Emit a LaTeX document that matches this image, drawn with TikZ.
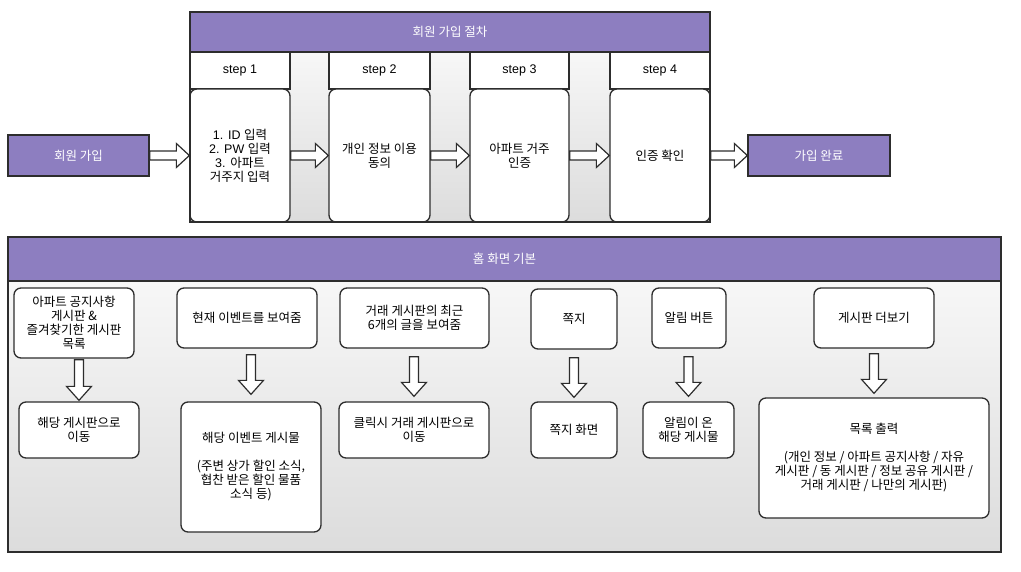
\documentclass[tikz,border=0pt]{standalone}
\usepackage{fontspec}
\setmainfont{Noto Sans CJK KR}
\newfontfamily\latin{Liberation Sans}
\usetikzlibrary{calc}

\definecolor{hdrpurple}{RGB}{141,126,192}
\definecolor{edge}{RGB}{45,45,45}
\definecolor{shadetop}{RGB}{247,247,247}
\definecolor{shadebot}{RGB}{220,220,220}

\tikzset{
  base/.style={draw=edge, line width=1.3pt, align=center, inner sep=0pt,
    font=\fontsize{12.5}{14}\selectfont},
  purplebox/.style={base, fill=hdrpurple, text=white},
  stephead/.style={base, fill=white},
  card/.style={base, fill=white, rounded corners=7pt},
  frame/.style={draw=edge, line width=1.3pt},
  blockarrow/.style={draw=edge, line width=1.2pt, fill=white, line join=miter},
}

% horizontal hollow arrow from the east side of #1 to the west side of #2
\newcommand\rightblock[2]{%
  \draw[blockarrow] let \p1=(#1.east), \p2=(#2.west) in
    (\x1,\y1+4.5pt) -- (\x2-13pt,\y1+4.5pt) -- (\x2-13pt,\y1+12pt) -- (\x2,\y1)
    -- (\x2-13pt,\y1-12pt) -- (\x2-13pt,\y1-4.5pt) -- (\x1,\y1-4.5pt) -- cycle;}

% vertical hollow arrow from #1 down to #2, with gaps #3 (start) and #4 (tip)
\newcommand\downblock[4]{%
  \draw[blockarrow] let \p1=(#1.south), \p2=(#2.north) in
    (\x2-4.5pt,\y1-#3) -- (\x2-4.5pt,\y2+#4+14pt) -- (\x2-12.5pt,\y2+#4+14pt)
    -- (\x2,\y2+#4) -- (\x2+12.5pt,\y2+#4+14pt) -- (\x2+4.5pt,\y2+#4+14pt)
    -- (\x2+4.5pt,\y1-#3) -- cycle;}

\begin{document}
\begin{tikzpicture}[x=1pt,y=-1pt]
\fill[white] (0,0) rectangle (1021,571);
\useasboundingbox (0,0) rectangle (1021,571);

% ---------- sign-up procedure ----------
\shade[top color=shadetop, bottom color=shadebot] (190,52) rectangle (710,222);
\node[purplebox, minimum width=520, minimum height=40] (prochead) at (450,32) {회원 가입 절차};

\node[stephead, minimum width=100, minimum height=37] (s1h) at (240,70.5) {\latin step 1};
\node[stephead, minimum width=101, minimum height=37] (s2h) at (379.5,70.5) {\latin step 2};
\node[stephead, minimum width=99,  minimum height=37] (s3h) at (519.5,70.5) {\latin step 3};
\node[stephead, minimum width=100, minimum height=37] (s4h) at (660,70.5) {\latin step 4};

\node[card, minimum width=100, minimum height=133] (s1) at (240,155.5)
  {{\latin 1. ID }입력\\{\latin 2. PW }입력\\{\latin 3. }아파트\\거주지 입력};
\node[card, minimum width=101, minimum height=133] (s2) at (379.5,155.5) {개인 정보 이용\\동의};
\node[card, minimum width=99,  minimum height=133] (s3) at (519.5,155.5) {아파트 거주\\인증};
\node[card, minimum width=100, minimum height=133] (s4) at (660,155.5) {인증 확인};

\draw[frame] (190,12) rectangle (710,222);

\node[purplebox, minimum width=141, minimum height=41] (join) at (78.5,155.5) {회원 가입};
\node[purplebox, minimum width=142, minimum height=41] (done) at (819,155.5) {가입 완료};

\rightblock{join}{s1}
\rightblock{s1}{s2}
\rightblock{s2}{s3}
\rightblock{s3}{s4}
\rightblock{s4}{done}

% ---------- home screen ----------
\shade[top color=shadetop, bottom color=shadebot] (8,281) rectangle (1001,552);
\node[purplebox, minimum width=993, minimum height=44] (homehead) at (504.5,259) {홈 화면 기본};
\draw[frame] (8,237) rectangle (1001,552);

\node[card, minimum width=120, minimum height=70] (a1) at (74,323)
  {아파트 공지사항\\게시판 \&\\즐겨찾기한 게시판\\목록};
\node[card, minimum width=120, minimum height=56] (a2) at (79,430) {해당 게시판으로\\이동};

\node[card, minimum width=140, minimum height=60] (b1) at (247,318) {현재 이벤트를 보여줌};
\node[card, minimum width=140, minimum height=130] (b2) at (251,467)
  {해당 이벤트 게시물\\[14pt](주변 상가 할인 소식,\\협찬 받은 할인 물품\\소식 등)};

\node[card, minimum width=149, minimum height=60] (c1) at (414.5,318) {거래 게시판의 최근\\6개의 글을 보여줌};
\node[card, minimum width=150, minimum height=56] (c2) at (414,430) {클릭시 거래 게시판으로\\이동};

\node[card, minimum width=86, minimum height=60] (d1) at (574,319) {쪽지};
\node[card, minimum width=86, minimum height=56] (d2) at (574,430) {쪽지 화면};

\node[card, minimum width=74, minimum height=60] (e1) at (689,318) {알림 버튼};
\node[card, minimum width=91, minimum height=56] (e2) at (688.5,430) {알림이 온\\해당 게시물};

\node[card, minimum width=120, minimum height=60] (f1) at (874,318) {게시판 더보기};
\node[card, minimum width=230, minimum height=120] (f2) at (874,458)
  {목록 출력\\[14pt](개인 정보 / 아파트 공지사항 / 자유\\게시판 / 동 게시판 / 정보 공유 게시판 /\\거래 게시판 / 나만의 게시판)};

\downblock{a1}{a2}{1pt}{1pt}
\downblock{b1}{b2}{6pt}{7pt}
\downblock{c1}{c2}{8pt}{5pt}
\downblock{d1}{d2}{8pt}{4pt}
\downblock{e1}{e2}{8pt}{5pt}
\downblock{f1}{f2}{5pt}{4pt}
\end{tikzpicture}
\end{document}
